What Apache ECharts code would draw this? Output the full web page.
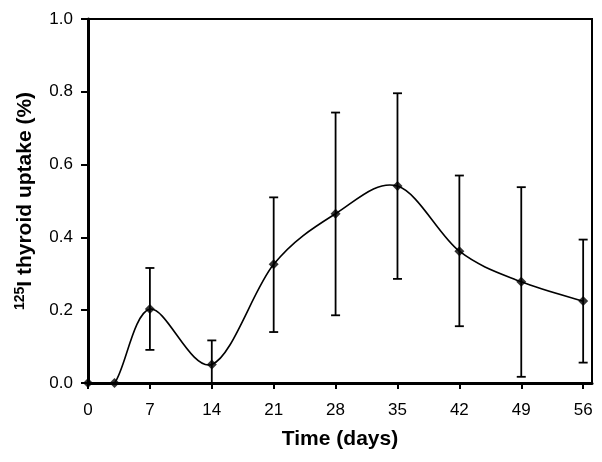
<!DOCTYPE html>
<html>
<head>
<meta charset="utf-8">
<script src="https://cdn.jsdelivr.net/npm/echarts@6/dist/echarts.min.js"></script>
<style>html,body{margin:0;padding:0;background:#fff}#c{width:602px;height:462px}</style>
</head>
<body>
<div id="c"></div>
<script>
var days = [0, 3, 7, 14, 21, 28, 35, 42, 49, 56];
var uptake = [0, 0, 0.203, 0.051, 0.326, 0.465, 0.541, 0.362, 0.278, 0.225];
var errLow = [null, null, 0.091, 0.0, 0.140, 0.186, 0.286, 0.156, 0.017, 0.056];
var errHigh = [null, null, 0.316, 0.117, 0.510, 0.743, 0.796, 0.570, 0.538, 0.394];
var xTicks = [0, 7, 14, 21, 28, 35, 42, 49, 56];
var yTicks = [0, 0.2, 0.4, 0.6, 0.8, 1.0];

var pointData = days.map(function (d, i) { return [d, uptake[i]]; });
var errData = [];
days.forEach(function (d, i) {
  if (errLow[i] !== null) errData.push([d, errLow[i], errHigh[i]]);
});

var chart = echarts.init(document.getElementById('c'), null, { renderer: 'canvas' });
var font = 'Liberation Sans, Arial, sans-serif';
chart.setOption({
  animation: false,
  backgroundColor: '#fff',
  grid: { left: 88, right: 10, top: 19, bottom: 79, show: true, borderColor: '#000', borderWidth: 2, backgroundColor: 'transparent' },
  xAxis: {
    type: 'value', min: 0, max: 57, interval: 7,
    splitLine: { show: false },
    axisLine: { lineStyle: { color: '#000', width: 3 } },
    axisTick: { show: true, inside: false, length: 6, lineStyle: { color: '#000', width: 2 }, customValues: xTicks },
    axisLabel: { color: '#000', fontSize: 17, fontFamily: font, margin: 19, customValues: xTicks },
    name: 'Time (days)', nameLocation: 'middle', nameGap: 46,
    nameTextStyle: { color: '#000', fontSize: 21, fontWeight: 'bold', fontFamily: font }
  },
  yAxis: {
    type: 'value', min: 0, max: 1.0, interval: 0.2,
    splitLine: { show: false },
    axisLine: { lineStyle: { color: '#000', width: 3 } },
    axisTick: { show: true, inside: false, length: 7, lineStyle: { color: '#000', width: 2 } },
    axisLabel: { color: '#000', fontSize: 17, fontFamily: font, margin: 15,
      customValues: yTicks,
      formatter: function (v) { return v.toFixed(1); } },
    name: '{sup|125}{b|I thyroid uptake (%)}', nameLocation: 'middle', nameGap: 50,
    nameTextStyle: {
      rich: {
        sup: { fontSize: 14, fontWeight: 'bold', fontFamily: font, color: '#000', verticalAlign: 'top', padding: [0, 0, 11, 0] },
        b: { fontSize: 21, fontWeight: 'bold', fontFamily: font, color: '#000' }
      }
    }
  },
  series: [
    {
      type: 'custom',
      data: [[0, 0]],
      clip: true,
      z: 2,
      renderItem: function (params, api) {
        var p = pointData.map(function (d) { return api.coord(d); });
        var n = p.length;
        var children = [];
        for (var i = 0; i < n - 1; i++) {
          var p0 = p[Math.max(i - 1, 0)], p1 = p[i], p2 = p[i + 1], p3 = p[Math.min(i + 2, n - 1)];
          children.push({
            type: 'bezierCurve',
            shape: {
              x1: p1[0], y1: p1[1], x2: p2[0], y2: p2[1],
              cpx1: p1[0] + (p2[0] - p0[0]) / 6, cpy1: p1[1] + (p2[1] - p0[1]) / 6,
              cpx2: p2[0] - (p3[0] - p1[0]) / 6, cpy2: p2[1] - (p3[1] - p1[1]) / 6
            },
            style: { stroke: '#000', lineWidth: 1.6, fill: null }
          });
        }
        return { type: 'group', children: children };
      }
    },
    {
      type: 'custom',
      data: errData,
      z: 3,
      renderItem: function (params, api) {
        var x = api.value(0);
        var lo = api.coord([x, api.value(1)]);
        var hi = api.coord([x, api.value(2)]);
        var w = 4.5;
        var st = { stroke: '#000', lineWidth: 1.8 };
        return {
          type: 'group',
          children: [
            { type: 'line', shape: { x1: lo[0], y1: lo[1], x2: hi[0], y2: hi[1] }, style: st },
            { type: 'line', shape: { x1: lo[0] - w, y1: lo[1], x2: lo[0] + w, y2: lo[1] }, style: st },
            { type: 'line', shape: { x1: hi[0] - w, y1: hi[1], x2: hi[0] + w, y2: hi[1] }, style: st }
          ]
        };
      }
    },
    {
      type: 'scatter',
      data: pointData,
      z: 4,
      symbol: 'diamond',
      symbolSize: 10,
      itemStyle: { color: '#000' }
    }
  ]
});
</script>
</body>
</html>
